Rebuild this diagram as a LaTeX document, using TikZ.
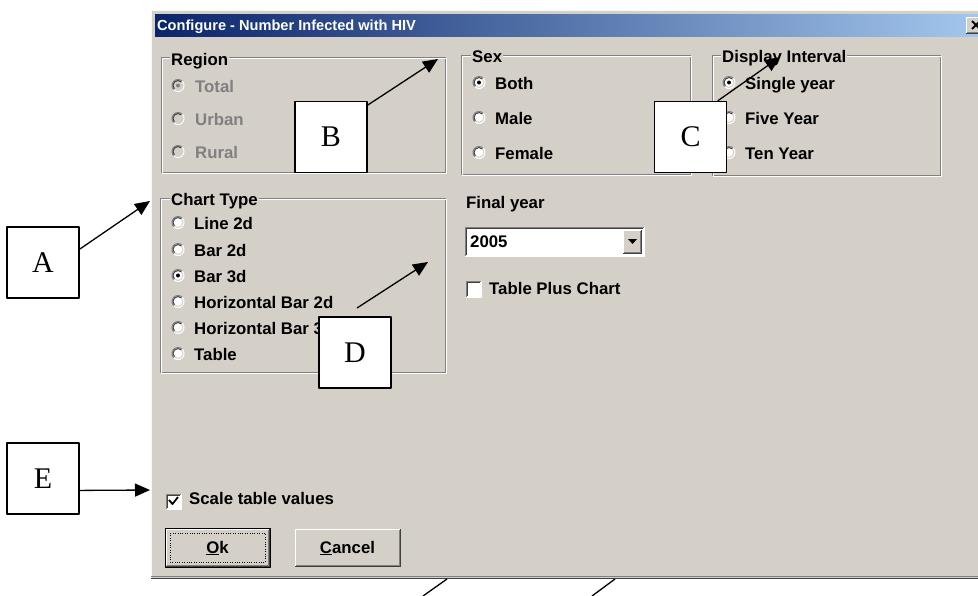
\documentclass[tikz,border=0pt]{standalone}
\usepackage{fontspec}
\setmainfont{Liberation Serif}
\newfontfamily\uifont{Liberation Sans}
\usetikzlibrary{arrows.meta}
\definecolor{winbg}{HTML}{D4D0C8}
\definecolor{tbdark}{HTML}{0A246A}
\definecolor{tblight}{HTML}{A6CAF0}
\definecolor{etch}{HTML}{808080}
\definecolor{shadow}{HTML}{404040}
\tikzset{
  callout/.style={draw,fill=white,line width=1.4pt,minimum width=72pt,minimum height=71pt,
    font=\fontsize{30}{30}\selectfont},
  callline/.style={line width=1.3pt},
  ui/.style={font=\uifont\bfseries\fontsize{16.8}{18}\selectfont,anchor=base west,inner sep=0pt},
  uidis/.style={ui,text=etch},
  grouptitle/.style={ui,fill=winbg,inner xsep=1pt},
  titletext/.style={ui,text=white,font=\uifont\bfseries\fontsize{14.6}{16}\selectfont},
}
% etched frame of a group box
\newcommand{\groupframe}[4]{%
  \draw[etch] (#1,#2) rectangle (#3-1,#4-1);
  \draw[white] (#1+1,#2+1) rectangle (#3,#4);}
% sunken round button
\newcommand{\radiobtn}[3]{%
  \fill[#3] (#1,#2) circle (6pt);
  \draw[etch,line width=1pt] (#1,#2) ++(45:6pt) arc[start angle=45,end angle=225,radius=6pt];
  \draw[shadow,line width=1pt] (#1,#2) ++(45:5pt) arc[start angle=45,end angle=225,radius=5pt];
  \draw[white,line width=1pt] (#1,#2) ++(225:6pt) arc[start angle=225,end angle=405,radius=6pt];
  \draw[winbg,line width=1pt] (#1,#2) ++(225:5pt) arc[start angle=225,end angle=405,radius=5pt];}
% sunken and raised boxes
\newcommand{\sunkbox}[4]{%
  \fill[white] (#1,#2) rectangle (#3,#4);
  \draw[etch] (#1,#4) |- (#3,#2);
  \draw[shadow] (#1+1,#4-1) |- (#3-1,#2+1);
  \draw[white] (#1,#4) -| (#3,#2);}
\newcommand{\raisedbtn}[4]{%
  \fill[winbg] (#1,#2) rectangle (#3,#4);
  \draw[white] (#1,#4) |- (#3,#2);
  \draw[shadow] (#1,#4) -| (#3,#2);
  \draw[etch] (#1+1,#4-1) -| (#3-1,#2+1);}
\begin{document}
\begin{tikzpicture}[x=1pt,y=-1pt,line join=round,>={Triangle[length=15pt,width=13pt]}]
\useasboundingbox (0,0) rectangle (978,595);
% dialog
\fill[winbg] (151,10) rectangle (995,578);
\draw[white!85!winbg] (151.5,578) |- (995,10.5);
\draw[etch] (151,576.5) -- (995,576.5);
\draw[shadow,line width=1.5pt] (151,578.5) -- (995,578.5);
\shade[left color=tbdark,right color=tblight] (155,14) rectangle (995,36);
\node[titletext] (title) at (157,30) {Configure - Number Infected with HIV};
\raisedbtn{966}{17}{990}{33}
\draw[line width=1.8pt] (972,21) -- (980,29) (972,29) -- (980,21);
% region
\groupframe{161}{57}{446}{173}
\node[grouptitle] (region) at (170,65) {Region};
\foreach \lab/\yy [count=\i] in {Total/92,Urban/125,Rural/158}{
  \radiobtn{178}{\yy-6.5}{winbg}
  \node[uidis] (reg\i) at (195,\yy) {\lab};
}
\fill[etch] (178,85.5) circle (2pt);
% sex
\groupframe{461}{55}{691}{175}
\node[grouptitle] (sex) at (471,62) {Sex};
\foreach \lab/\yy [count=\i] in {Both/89,Male/124,Female/159}{
  \radiobtn{479}{\yy-6.5}{white}
  \node[ui] (sex\i) at (495,\yy) {\lab};
}
\fill (479,82.5) circle (2pt);
% interval
\groupframe{712}{55}{941}{176}
\node[grouptitle] (interval) at (721,62) {Display Interval};
\foreach \lab/\yy [count=\i] in {Single year/89,Five Year/124,Ten Year/159}{
  \radiobtn{729}{\yy-6.5}{white}
  \node[ui] (int\i) at (745,\yy) {\lab};
}
\fill (729,82.5) circle (2pt);
% chart type
\groupframe{160}{198}{446}{373}
\node[grouptitle] (charttype) at (170,205) {Chart Type};
\foreach \lab/\yy [count=\i] in {Line 2d/229,Bar 2d/256,Bar 3d/282,Horizontal Bar 2d/308,
    Horizontal Bar 3d/334,Table/360}{
  \radiobtn{178}{\yy-6.5}{white}
  \node[ui] (ct\i) at (194,\yy) {\lab};
}
\fill (178,275.5) circle (2pt);
% final year
\node[ui] (finalyear) at (466,208) {Final year};
\sunkbox{465}{227}{644}{256}
\node[ui] (year) at (470,247) {2005};
\raisedbtn{623}{230}{641}{253}
\fill (628,239) -- (637,239) -- (632.5,244) -- cycle;
\sunkbox{466}{281}{481}{297}
\node[ui] (tableplus) at (489,294) {Table Plus Chart};
% scale and buttons
\sunkbox{166}{494}{181}{509}
\draw[line width=1.8pt] (169,500) -- (172.5,504) -- (178,497);
\node[ui] (scale) at (189,504) {Scale table values};
\draw[line width=1pt] (165,528) rectangle (270,567);
\raisedbtn{166}{529}{269}{566}
\draw[dotted] (170,533) rectangle (265,562);
\node[ui,anchor=base] (ok) at (217.5,553) {\underline{O}k};
\raisedbtn{295}{529}{400}{566}
\node[ui,anchor=base] (cancel) at (347.5,553) {\underline{C}ancel};
% callouts
\node[callout] (A) at (43,262.5) {A};
\node[callout] (B) at (331,137) {B};
\node[callout] (C) at (690.5,137) {C};
\node[callout] (D) at (355,352.5) {D};
\node[callout] (E) at (43,478.5) {E};
\coordinate (tipA) at (150,201);
\coordinate (tipB) at (438,59);
\coordinate (tipC) at (780,57);
\coordinate (tailD) at (357,308);
\coordinate (tipD) at (428,262);
\coordinate (tipE) at (150,490);
\draw[->,callline] (A.20) -- (tipA);
\draw[->,callline] (B.41) -- (tipB);
\draw[->,callline] (C.53) -- (tipC);
\draw[->,callline] (tailD) -- (tipD);
\draw[->,callline] (E.-18) -- (tipE);
% lines from below
\coordinate (low1) at (423,596);
\coordinate (top1) at (447,579);
\coordinate (low2) at (592,596);
\coordinate (top2) at (615,579);
\draw[callline] (low1) -- (top1);
\draw[callline] (low2) -- (top2);
\end{tikzpicture}
\end{document}
